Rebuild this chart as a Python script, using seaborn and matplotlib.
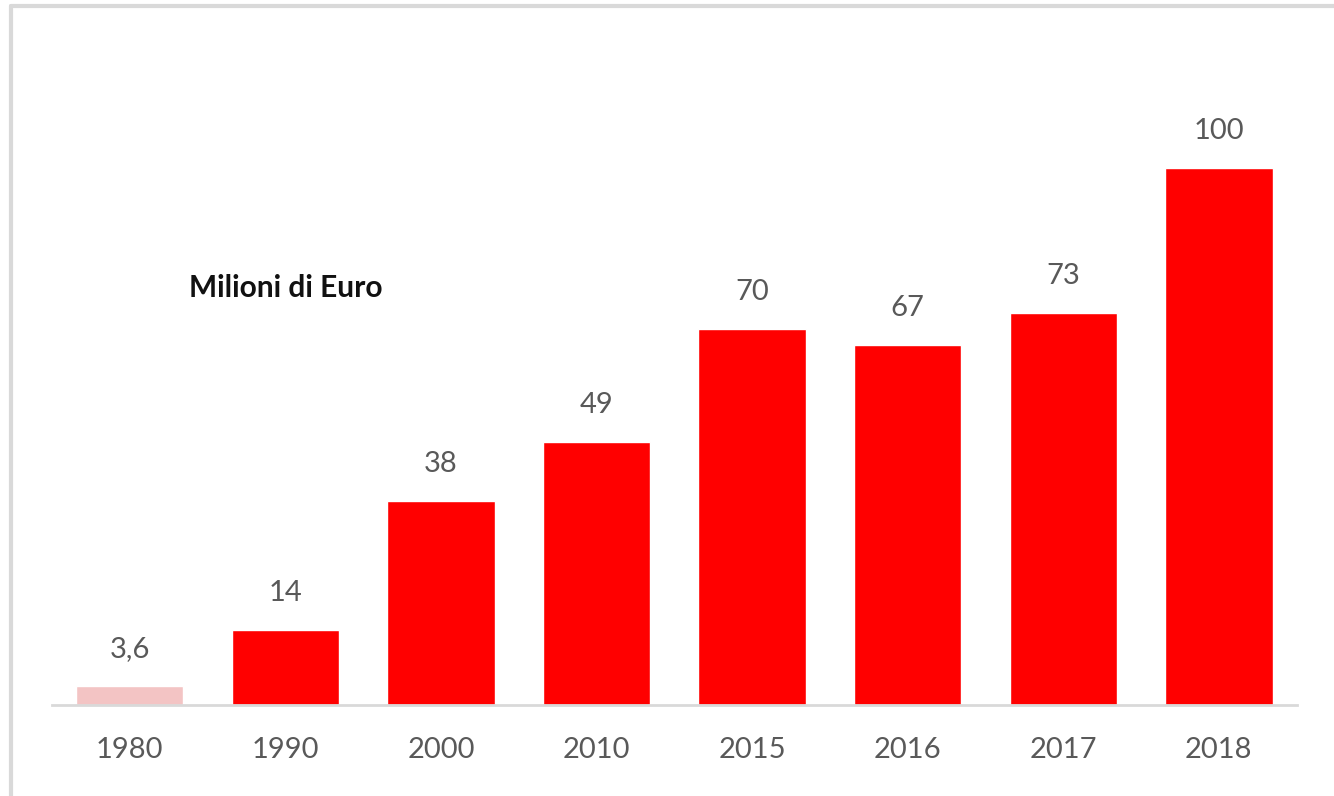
import matplotlib
matplotlib.use("Agg")
import matplotlib.pyplot as plt
import seaborn as sns
import pandas as pd
from matplotlib.lines import Line2D

years = ["1980", "1990", "2000", "2010", "2015", "2016", "2017", "2018"]
values = [3.6, 14, 38, 49, 70, 67, 73, 100]
labels = ["3,6", "14", "38", "49", "70", "67", "73", "100"]
title_text = "Milioni di Euro"

sns.set_theme(style="white")
plt.rcParams['font.family'] = ['Lato', 'DejaVu Sans']

df = pd.DataFrame({"year": years, "value": values})
palette = {y: "#ff0000" for y in years}
palette["1980"] = "#f3c4c4"

fig = plt.figure(figsize=(13.34, 7.96), dpi=100)
ax = fig.add_axes([0.039, 0.1143, 0.933, 0.8103])
sns.barplot(data=df, x="year", y="value", hue="year", palette=palette,
            width=0.69, legend=False, ax=ax, saturation=1)

ax.set_ylim(0, 120)
ax.set_xlim(-0.5, len(years) - 0.5)
for i, (v, lab) in enumerate(zip(values, labels)):
    ax.annotate(lab, (i, v), xytext=(0, 17), textcoords="offset points",
                ha="center", va="bottom", fontsize=21, color="#595959")

ax.text(1, 77.5, title_text, ha="center", va="center", fontsize=21.5,
        fontweight="bold", color="#111111")

for s in ["top", "right", "left"]:
    ax.spines[s].set_visible(False)
ax.spines["bottom"].set_color("#d9d9d9")
ax.spines["bottom"].set_linewidth(2)
ax.set_yticks([])
ax.set_xlabel("")
ax.set_ylabel("")
ax.tick_params(axis="x", length=0, pad=23, labelsize=21, labelcolor="#595959")

fig.add_artist(Line2D([11/1334, 11/1334], [0, 1 - 6/796], transform=fig.transFigure,
                      color="#d9d9d9", linewidth=3))
fig.add_artist(Line2D([11/1334, 1], [1 - 6/796, 1 - 6/796], transform=fig.transFigure,
                      color="#d9d9d9", linewidth=3))

fig.savefig("out.png", dpi=100, facecolor="white")
